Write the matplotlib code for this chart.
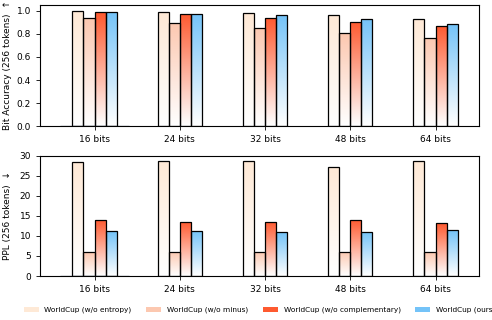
import matplotlib.pyplot as plt
import numpy as np
from matplotlib.colors import LinearSegmentedColormap
from matplotlib.patches import Patch

groups = ['16 bits', '24 bits', '32 bits', '48 bits', '64 bits']
methods = ['WorldCup (w/o entropy)', 'WorldCup (w/o minus)',
           'WorldCup (w/o complementary)', 'WorldCup (ours)']
colors = ['#fee9d6', '#fcc8b0', '#fe5a30', '#74c3f8']

bit_acc = [
    [0.997, 0.986, 0.983, 0.965, 0.931],  # w/o entropy
    [0.934, 0.896, 0.853, 0.804, 0.766],  # w/o minus
    [0.986, 0.974, 0.939, 0.905, 0.870],  # w/o complementary
    [0.991, 0.977, 0.965, 0.931, 0.887],  # ours
]
ppl = [
    [28.5, 28.8, 28.8, 27.1, 28.8],
    [5.9, 6.1, 6.1, 6.1, 5.9],
    [14.1, 13.5, 13.5, 14.1, 13.2],
    [11.2, 11.3, 10.9, 11.1, 11.4],
]

bar_w = 0.13


def gradient_bars(ax, vals_list):
    x = np.arange(len(groups))
    for i, (vals, c) in enumerate(zip(vals_list, colors)):
        cmap = LinearSegmentedColormap.from_list('g%d' % i, ['#ffffff', c])
        pos = x + (i - 1.5) * bar_w
        bars = ax.bar(pos, vals, width=bar_w, facecolor='none',
                      edgecolor='black', linewidth=0.9, zorder=3)
        for b in bars:
            x0, h = b.get_x(), b.get_height()
            grad = np.linspace(0, 1, 100).reshape(-1, 1)
            im = ax.imshow(grad, cmap=cmap, origin='lower', aspect='auto',
                           extent=(x0, x0 + bar_w, 0, h), zorder=2,
                           vmin=0, vmax=1)
            im.set_clip_path(b)
    # zero-height bar left over under the first group
    ax.bar(0, 0, width=0.8, fill=False, edgecolor='#203048', linewidth=0.9, zorder=3)
    ax.set_xticks(x)
    ax.set_xticklabels(groups)
    ax.set_xlim(-0.64, 4.51)
    ax.tick_params(labelsize=6.5, length=3, width=0.6)


fig = plt.figure(figsize=(4.92, 3.2), dpi=100)
ax1 = fig.add_axes([0.0813, 0.606, 0.8923, 0.378])
ax2 = fig.add_axes([0.0813, 0.1375, 0.8923, 0.3755])

gradient_bars(ax1, bit_acc)
ax1.set_ylim(0, 1.05)
ax1.set_yticks([0.0, 0.2, 0.4, 0.6, 0.8, 1.0])
ax1.set_ylabel('Bit Accuracy (256 tokens)  ↑', fontsize=6.5)
ax1.yaxis.set_label_coords(-0.064, 0.5)

gradient_bars(ax2, ppl)
ax2.set_ylim(0, 30)
ax2.set_yticks([0, 5, 10, 15, 20, 25, 30])
ax2.set_ylabel('PPL (256 tokens)  ↓', fontsize=6.5)
ax2.yaxis.set_label_coords(-0.064, 0.5)

handles = [Patch(facecolor=c, edgecolor='none', label=m) for c, m in zip(colors, methods)]
fig.legend(handles=handles, loc='lower left', bbox_to_anchor=(0.035, 0.0),
           ncol=4, frameon=False, fontsize=5.3)

fig.savefig('out.png', dpi=100)
